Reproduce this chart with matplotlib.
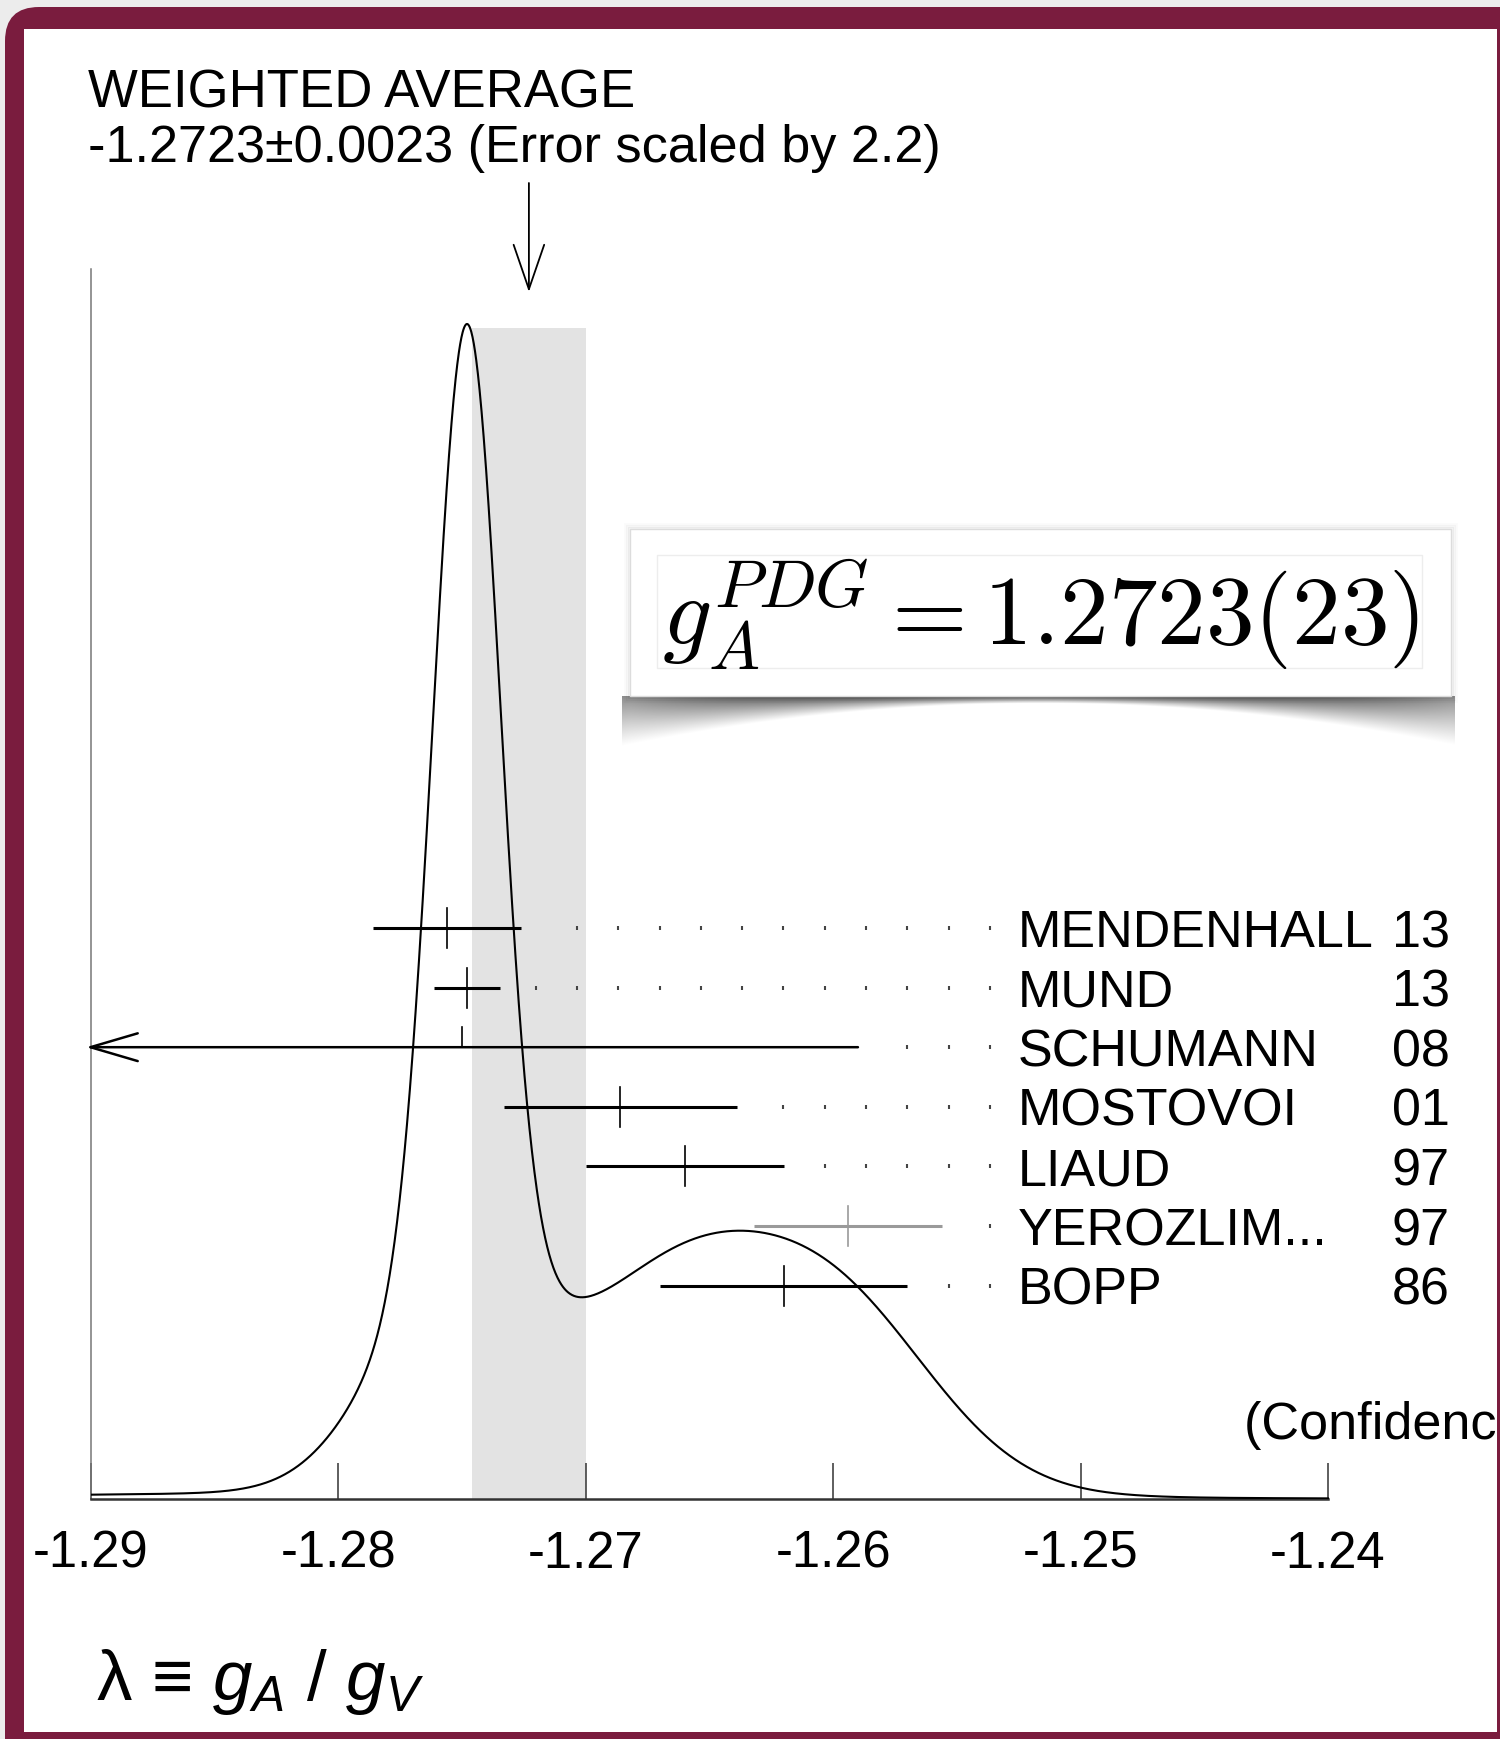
import numpy as np
import matplotlib
matplotlib.use("Agg")
import matplotlib.pyplot as plt
from matplotlib.patches import FancyBboxPatch, Rectangle

plt.rcParams['font.family'] = ['Liberation Sans', 'DejaVu Sans']
plt.rcParams['mathtext.fontset'] = 'custom'
plt.rcParams['mathtext.rm'] = 'Liberation Sans'
plt.rcParams['mathtext.it'] = 'Liberation Sans:italic'

# 데이터 -------------------------------------------------------------------
names = ["MENDENHALL", "MUND", "SCHUMANN", "MOSTOVOI", "LIAUD", "YEROZLIM...", "BOPP"]
years = ["13", "13", "08", "01", "97", "97", "86"]
values = [-1.2756, -1.2748, -1.2750, -1.2686, -1.2660, -1.2594, -1.2620]
errors = [0.0030, 0.00135, 0.0160, 0.0047, 0.0040, 0.0038, 0.0050]
bar_colors = ["k", "k", "k", "k", "k", "#9a9a9a", "k"]

avg, avg_err, err_scale = -1.2723, 0.0023, 2.2
xticks = [-1.29, -1.28, -1.27, -1.26, -1.25, -1.24]

W, H = 1500, 1739
maroon = "#7a1c3e"

# 픽셀 -> 데이터 변환용 배치 값
px_x0, px_x1 = 91, 1497          # 축 왼쪽(-1.29), 오른쪽 끝
px_base, px_top, px_peak = 1499, 269, 324
px_per = 24740.0                  # 1 단위당 픽셀
xmax = xticks[0] + (px_x1 - px_x0) / px_per
ytop = (px_base - px_top) / (px_base - px_peak)


def ypx(p):
    return (px_base - p) / (px_base - px_peak)


def xpx(p):
    return xticks[0] + (p - px_x0) / px_per


fig = plt.figure(figsize=(W / 100, H / 100), dpi=100)
fig.patch.set_facecolor("#ececec")

# 배경(프레임) ---------------------------------------------------------------
bg = fig.add_axes([0, 0, 1, 1], zorder=0)
bg.set_xlim(0, W)
bg.set_ylim(H, 0)
bg.axis("off")
bg.add_patch(FancyBboxPatch((5, 7), W + 40, H + 40, boxstyle="round,pad=0,rounding_size=34",
                            fc=maroon, ec="none"))
bg.add_patch(FancyBboxPatch((W - 60, 7), 60, 80, boxstyle="round,pad=0,rounding_size=24",
                            fc=maroon, ec="none"))
bg.add_patch(Rectangle((24, 29), 1473, 1703, fc="white", ec="none"))

# 제목
bg.text(88, 107, "WEIGHTED AVERAGE", fontsize=38, va="baseline", ha="left")
bg.text(88, 162, f"{avg:.4f}\u00b1{avg_err:.4f} (Error scaled by {err_scale})",
        fontsize=37.6, va="baseline", ha="left")

# λ 라벨
bg.text(96, 1700, "\u03bb \u2261 $g_{A}$ / $g_{V}$", fontsize=51, va="baseline", ha="left")

# 메인 축 ---------------------------------------------------------------------
ax = fig.add_axes([px_x0 / W, (H - px_base) / H, (px_x1 - px_x0) / W, (px_base - px_top) / H],
                  zorder=2)
ax.patch.set_alpha(0)
ax.set_xlim(xticks[0], xmax)
ax.set_ylim(0, ytop)

# 아이디오그램
xs = np.linspace(xticks[0], xticks[-1], 3000)
curve = np.zeros_like(xs)
for v, e in zip(values, errors):
    curve += (1 / e) * np.exp(-0.5 * ((xs - v) / e) ** 2) / e
curve /= curve.max()

ax.axvspan(avg - avg_err, avg + avg_err, ymin=0, ymax=0.997 / ytop, color="#e3e3e3", lw=0, zorder=1)
ax.plot(xs, curve, color="k", lw=1.5, zorder=3)

# 측정값 행
row0, step = ypx(928), 59.6 / (px_base - px_peak)
tick_h = 20 / (px_base - px_peak)
name_x, year_x = xpx(1018), xpx(1450)
dot_last, dot_step, dot_gap = xpx(990), 41.3 / px_per, 32 / px_per
for i, (n, yr, v, e, c) in enumerate(zip(names, years, values, errors, bar_colors)):
    y = row0 - i * step
    lo, hi = v - e, v + e
    if lo < xticks[0]:
        ax.annotate("", xy=(xticks[0] - 0.0002, y), xytext=(hi, y), annotation_clip=False,
                    arrowprops=dict(arrowstyle="->,head_length=1.7,head_width=0.5",
                                    color="k", lw=1.8, mutation_scale=20, shrinkA=0, shrinkB=0),
                    zorder=4)
        ax.plot([v, v], [y, y + tick_h], color="k", lw=1.2, zorder=4)
    else:
        ax.plot([lo, hi], [y, y], color=c, lw=2.2, zorder=4, solid_capstyle="butt")
        ax.plot([v, v], [y - tick_h, y + tick_h], color=c, lw=1.2, zorder=4)
    dots = dot_last - dot_step * np.arange(20)
    dots = dots[dots > hi + dot_gap]
    ax.plot(dots, np.full_like(dots, y), ls="none", marker="|", ms=3.5, mew=1.5, color="#444444",
            zorder=4)
    ax.text(name_x, y, n, fontsize=37.5, va="center_baseline", ha="left")
    ax.text(year_x, y, yr, fontsize=37.5, va="center_baseline", ha="right")

ax.text(xpx(1244), ypx(1420), "(Confidence Level)", fontsize=37.5, va="center_baseline",
        ha="left", clip_on=True)

# 평균 화살표
ax.annotate("", xy=(avg, ypx(292)), xytext=(avg, ypx(183)), annotation_clip=False,
            arrowprops=dict(arrowstyle="->,head_length=1.6,head_width=0.55", color="k",
                            lw=1.3, mutation_scale=20, shrinkA=0, shrinkB=0))

# 축 스타일
for s in ["top", "right"]:
    ax.spines[s].set_visible(False)
ax.spines["left"].set_color("#777777")
ax.spines["left"].set_linewidth(1.1)
ax.spines["bottom"].set_color("#333333")
ax.spines["bottom"].set_linewidth(1.8)
ax.spines["bottom"].set_bounds(xticks[0], xticks[-1])
ax.set_yticks([])
ax.set_xticks(xticks)
ax.set_xticklabels([f"{t:.2f}" for t in xticks])
ax.tick_params(axis="x", direction="in", length=26, width=1.1, color="#333333",
               labelsize=36.5, pad=22)

# g_A 박스 -------------------------------------------------------------------
bx0, by0, bx1, by1 = 630, 529, 1451, 696
sx = np.linspace(bx0 - 8, bx1 + 4, 400)
sy = np.linspace(by1, by1 + 54, 90)
SX, SY = np.meshgrid(sx, sy)
u = (SX - (bx0 + bx1) / 2) / ((bx1 - bx0) / 2)
depth = 7 + 42 * u ** 2
d = SY - by1
a = np.clip(1 - d / depth, 0, 1) ** 1.1 * (0.7 - 0.25 * np.clip(np.abs(u), 0, 1) ** 4)
rgba = np.zeros(SX.shape + (4,))
rgba[..., 3] = a
bg.imshow(rgba, extent=(sx[0], sx[-1], sy[-1], sy[0]), aspect="auto", zorder=3,
          interpolation="bilinear")
for k, al in enumerate([0.05, 0.035, 0.02]):
    bg.add_patch(Rectangle((bx0 - 1 - k * 2, by0 - 1 - k * 2), bx1 - bx0 + 2 + k * 4,
                           by1 - by0 + 2 + k * 4, fc="none", ec="k", alpha=al, lw=2, zorder=3))
bg.add_patch(Rectangle((bx0, by0), bx1 - bx0, by1 - by0, fc="white", ec="#dcdcdc", lw=1, zorder=4))
bg.add_patch(Rectangle((657, 555), 1422 - 657, 668 - 555, fc="none", ec="#ededed", lw=1, zorder=4))
bg.text((bx0 + bx1) / 2, 645, r"$g_A^{PDG} = 1.2723(23)$", fontsize=70, ha="center",
        va="baseline", math_fontfamily="cm", zorder=5)

fig.savefig("out.png", dpi=100)
